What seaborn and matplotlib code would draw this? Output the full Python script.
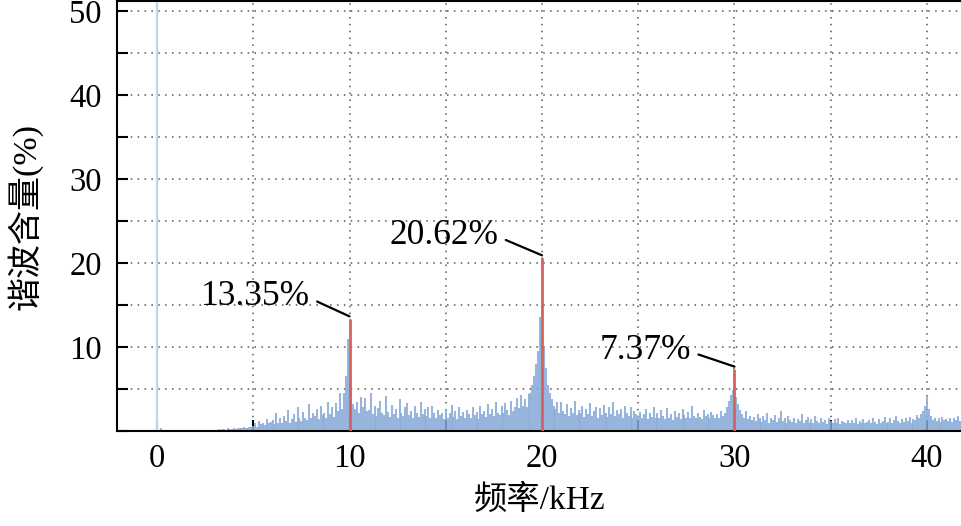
import numpy as np
import matplotlib
matplotlib.use("Agg")
import matplotlib.pyplot as plt
import seaborn as sns

# ---------------- data ----------------
# harmonic spectrum, 0.1 kHz resolution, 0.0 ... 41.9 kHz (values in %)
fundamental_khz = 0.0
fundamental_pct = 100.0
bin_khz = 0.1
spectrum_pct = [
    0.0, 0.0, 0.3, 0.0, 0.0, 0.0, 0.0, 0.0, 0.0, 0.0,      # 0
    0.0, 0.0, 0.0, 0.0, 0.0, 0.0, 0.0, 0.0, 0.0, 0.0,      # 1
    0.0, 0.0, 0.0, 0.0, 0.05, 0.0, 0.05, 0.0, 0.05, 0.1,   # 2
    0.1, 0.15, 0.2, 0.1, 0.25, 0.2, 0.15, 0.3, 0.2, 0.25,  # 3
    0.3, 0.2, 0.4, 0.35, 0.3, 0.5, 0.4, 0.3, 0.45, 0.5,    # 4
    0.6, 0.9, 0.5, 1.2, 0.8, 1.0, 0.7, 1.4, 0.9, 1.1,      # 5
    1.3, 0.8, 2.2, 1.0, 1.5, 0.9, 1.8, 1.2, 2.5, 1.0,      # 6
    1.4, 2.0, 1.1, 2.8, 1.5, 1.2, 2.3, 1.6, 1.3, 3.2,      # 7
    1.5, 2.1, 1.8, 2.6, 1.4, 3.0, 1.9, 2.2, 1.6, 3.4,      # 8
    2.0, 2.8, 1.7, 3.3, 2.4, 4.5, 2.6, 4.5, 6.5, 11.0,     # 9
    6.0, 5.0, 3.2, 2.6, 3.5, 2.2, 4.1, 2.8, 3.9, 2.4,      # 10
    2.5, 4.5, 2.0, 3.0, 1.8, 2.7, 3.6, 2.2, 1.9, 4.2,      # 11
    2.3, 1.7, 3.1, 2.0, 2.6, 1.5, 3.8, 2.1, 1.8, 2.9,      # 12
    3.3, 1.9, 2.4, 1.6, 3.0, 2.2, 1.7, 3.4, 2.0, 2.6,      # 13
    1.8, 2.8, 1.5, 3.0, 2.2, 1.6, 2.5, 1.9, 2.1, 1.4,      # 14
    2.6, 1.5, 2.2, 3.1, 1.7, 2.4, 1.4, 2.9, 1.8, 2.3,      # 15
    1.6, 2.5, 2.0, 1.5, 2.8, 1.9, 2.3, 1.4, 3.0, 2.0,      # 16
    2.4, 1.7, 3.2, 2.0, 2.6, 1.8, 3.4, 2.2, 1.9, 3.0,      # 17
    2.1, 3.3, 2.5, 1.9, 3.6, 2.4, 2.8, 3.9, 2.7, 4.3,      # 18
    3.0, 3.8, 2.9, 4.4, 4.5, 5.5, 6.5, 8.0, 9.5, 13.6,     # 19
    12.0, 10.0, 7.5, 5.5, 4.5, 3.8, 3.0, 2.6, 3.4, 2.2,    # 20
    3.5, 2.4, 2.0, 3.2, 1.8, 2.7, 2.2, 3.6, 1.9, 2.5,      # 21
    2.1, 3.0, 1.7, 2.6, 2.0, 3.3, 1.8, 2.4, 2.9, 1.6,      # 22
    2.7, 1.9, 3.1, 2.2, 1.7, 2.8, 2.0, 3.4, 1.8, 2.5,      # 23
    2.0, 2.6, 1.6, 3.0, 2.2, 1.8, 2.9, 1.5, 2.4, 2.0,      # 24
    1.8, 2.3, 1.5, 2.0, 2.6, 1.4, 2.1, 1.7, 2.8, 1.6,      # 25
    2.2, 1.5, 2.5, 1.8, 1.4, 2.7, 1.6, 2.0, 1.3, 2.4,      # 26
    1.7, 2.1, 1.4, 2.6, 1.9, 1.5, 2.3, 1.6, 3.0, 1.8,      # 27
    1.5, 2.2, 1.7, 1.4, 2.5, 1.8, 2.0, 1.5, 2.3, 1.9,      # 28
    1.6, 2.0, 1.5, 2.4, 1.8, 2.2, 2.9, 3.6, 4.3, 4.9,      # 29
    4.5, 4.0, 3.2, 2.5, 2.0, 1.6, 2.4, 1.4, 1.8, 1.3,      # 30
    1.7, 1.2, 2.0, 1.5, 1.1, 1.8, 1.3, 2.2, 1.0, 1.6,      # 31
    1.3, 1.9, 1.1, 1.5, 2.4, 1.2, 1.6, 1.0, 1.8, 1.3,      # 32
    1.1, 1.6, 0.9, 1.4, 1.2, 2.0, 1.0, 1.3, 1.7, 0.9,      # 33
    1.4, 1.0, 1.8, 1.2, 0.9, 1.5, 1.1, 1.3, 0.8, 1.6,      # 34
    1.2, 0.9, 1.4, 1.0, 1.6, 0.8, 1.2, 1.1, 0.9, 1.3,      # 35
    0.9, 1.3, 1.0, 1.5, 0.8, 1.2, 1.0, 1.4, 0.9, 1.1,      # 36
    1.3, 0.9, 1.6, 1.1, 0.8, 1.4, 1.0, 1.2, 1.7, 0.9,      # 37
    1.1, 1.5, 1.0, 1.3, 1.8, 1.2, 0.9, 1.4, 1.1, 1.6,      # 38
    1.2, 1.7, 1.0, 1.4, 1.3, 1.9, 1.5, 2.0, 2.4, 3.0,      # 39
    4.0, 2.6, 1.8, 1.3, 1.6, 1.2, 1.5, 1.1, 1.7, 1.3,      # 40
    1.4, 1.2, 1.6, 1.1, 1.5, 1.3, 1.8, 1.2, 1.4, 1.6,      # 41
]
switch_khz = [10, 20, 30]
switch_pct = [13.35, 20.62, 7.37]
switch_labels = ["13.35%", "20.62%", "7.37%"]
label_anchor_khz = [7.95, 17.75, 27.75]
label_anchor_pct = [16.0, 23.3, 9.6]

x_major = [0, 10, 20, 30, 40]
x_minor = [5, 15, 25, 35]
y_major = [10, 20, 30, 40, 50]
y_minor = [0, 5, 15, 25, 35, 45]
xlabel = "频率/kHz"
ylabel = "谐波含量(%)"

# ---------------- style ----------------
sns.set_theme(style="ticks")
fam = ["Liberation Serif", "Noto Sans CJK SC", "DejaVu Sans"]
plt.rcParams["font.family"] = fam
plt.rcParams["text.color"] = "black"
plt.rcParams["axes.labelcolor"] = "black"
plt.rcParams["axes.unicode_minus"] = False

fig = plt.figure(figsize=(9.62, 5.26), dpi=100)
ax = fig.add_axes([0.1216, 0.1806, 0.8784, 0.8174])

freq = np.round(np.arange(len(spectrum_pct)) * bin_khz, 1)
ax.vlines(freq, 0, spectrum_pct, color="#86aad8", linewidth=1.5, alpha=0.85, zorder=2)
ax.vlines([fundamental_khz], 0, [fundamental_pct], color="#c3d5ec", linewidth=1.6, zorder=2)
ax.vlines(switch_khz, 0, switch_pct, color="#d6625c", linewidth=2.0, zorder=3)

for xk, yk, lab, tx, ty in zip(switch_khz, switch_pct, switch_labels,
                               label_anchor_khz, label_anchor_pct):
    ax.annotate(lab, xy=(xk, yk + 0.3), xytext=(tx, ty),
                ha="right", va="center", fontsize=25.5, family=fam, color="black",
                arrowprops=dict(arrowstyle="-", color="black", lw=1.6,
                                relpos=(1.0, 0.45), shrinkA=3, shrinkB=0))

ax.set_xlim(-2.08, 41.82)
ax.set_ylim(0, 51.2)
ax.set_xticks(x_major)
ax.set_xticks(x_minor, minor=True)
ax.set_yticks(y_major)
ax.set_yticks(y_minor, minor=True)
ax.set_xticklabels([str(v) for v in x_major])
ax.set_yticklabels([str(v) for v in y_major])

ax.grid(True, which="both", linestyle=(0, (1, 3.5)), color="#555555", linewidth=1.1, zorder=0)
ax.set_axisbelow(True)

ax.tick_params(axis="both", which="both", direction="in", length=8, width=1.5,
               colors="black", labelsize=23.5)
ax.tick_params(axis="y", which="both", pad=11)
ax.tick_params(axis="x", which="both", pad=9)

for s in ["left", "bottom", "top"]:
    ax.spines[s].set_color("black")
    ax.spines[s].set_linewidth(1.5)
ax.spines["right"].set_visible(False)

ax.set_xlabel(xlabel, fontsize=24, family=fam, labelpad=8)
ax.set_ylabel(ylabel, fontsize=24.5, family=fam, labelpad=19)

fig.savefig("out.png", dpi=100)
